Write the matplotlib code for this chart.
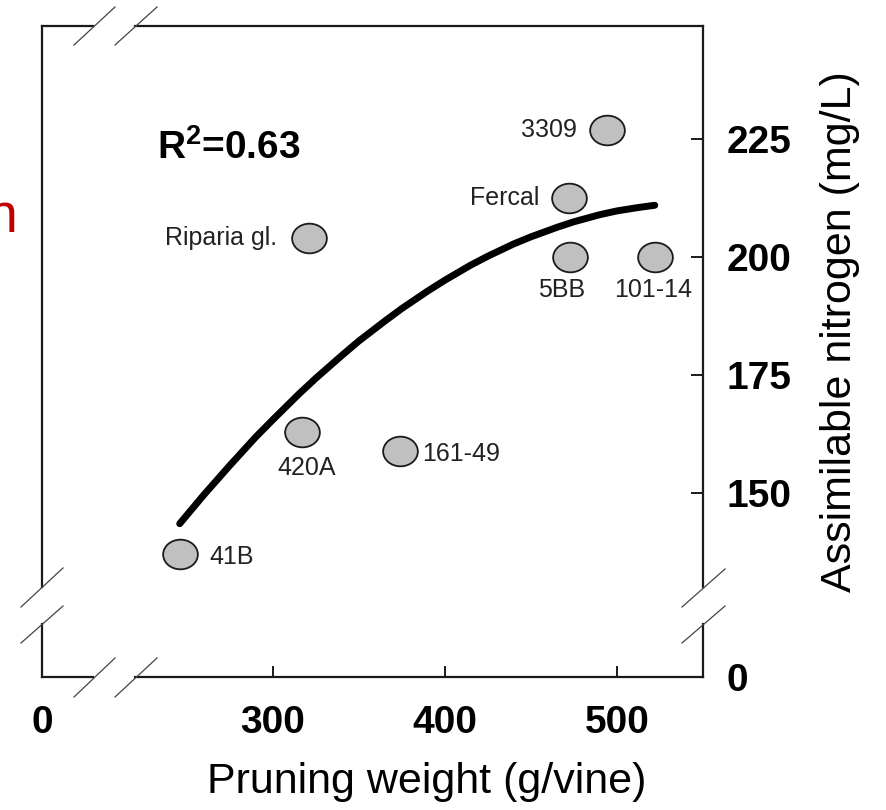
import matplotlib
matplotlib.use("Agg")
import matplotlib.pyplot as plt
from matplotlib.path import Path
from matplotlib.transforms import Affine2D
from matplotlib.lines import Line2D

plt.rcParams['font.family'] = ['Liberation Sans', 'DejaVu Sans']
plt.rcParams['mathtext.fontset'] = 'custom'
plt.rcParams['mathtext.rm'] = 'Liberation Sans'
plt.rcParams['mathtext.bf'] = 'Liberation Sans:bold'

# rootstocks: pruning weight (g/vine) vs assimilable nitrogen (mg/L)
names = ['3309', 'Fercal', '5BB', '101-14', 'Riparia gl.', '420A', '161-49', '41B']
pruning = [494, 472, 473, 522, 321, 317, 374, 246]
nitrogen = [227, 212.5, 200, 200, 204, 163, 159, 137]
# label offsets in pixels and alignment
lab_dx = [-30, -29, -9, -2, -32, 5, 22, 30]
lab_dy = [0, 0, -33, -33, 0, -36, -3, -3]
lab_ha = ['right', 'right', 'center', 'center', 'right', 'center', 'left', 'left']

# fitted curve
fit_x = [246, 260, 275, 290, 300, 315, 325, 340, 350, 365, 375, 390, 400, 415,
         425, 440, 450, 465, 475, 490, 500, 512, 522]
fit_y = [143.5, 149.6, 155.8, 161.8, 165.5, 170.9, 174.3, 179.1, 182.2, 186.4,
         189.1, 192.8, 195.1, 198.3, 200.2, 202.8, 204.3, 206.3, 207.5, 209.0,
         209.8, 210.5, 211]

xticks = [300, 400, 500]
yticks = [150, 175, 200, 225]
xlim = (166, 550)
ylim = (111, 249)

fig = plt.figure(figsize=(8.86, 8.10), dpi=100)
ax = fig.add_axes([42/886, 1-677/810, 661/886, 651/810])
ax.set_xlim(*xlim)
ax.set_ylim(*ylim)

ell = Path.unit_circle().transformed(Affine2D().scale(1.17, 1.0))

ax.plot(fit_x, fit_y, color='black', lw=5, solid_capstyle='round',
        solid_joinstyle='round', zorder=2)
ax.plot(pruning, nitrogen, ls='none', marker=ell, ms=25, mfc='#c0c0c0',
        mec='#1a1a1a', mew=1.3, zorder=3)

for n, x, y, dx, dy, ha in zip(names, pruning, nitrogen, lab_dx, lab_dy, lab_ha):
    ax.annotate(n, (x, y), xytext=(dx, dy), textcoords='offset pixels',
                ha=ha, va='center', fontsize=18, color='#222222')

ax.text((157-42)/661, (677-159)/651, r'R$^{\mathbf{2}}$=0.63', transform=ax.transAxes,
        fontsize=28, fontweight='bold', ha='left', va='baseline')

# spines with breaks drawn by hand
for s in ax.spines.values():
    s.set_visible(False)

def px(x, y):
    return (x-42)/661, (677-y)/651

segs = [
    [(42, 26), (93, 26)], [(135, 26), (703, 26)],
    [(42, 677), (93, 677)], [(135, 677), (703, 677)],
    [(42, 26), (42, 587)], [(42, 624), (42, 677)],
    [(703, 26), (703, 587)], [(703, 624), (703, 677)],
]
for a, b in segs:
    p1, p2 = px(*a), px(*b)
    ax.add_line(Line2D([p1[0], p2[0]], [p1[1], p2[1]], transform=ax.transAxes,
                       color='#1a1a1a', lw=1.6, clip_on=False))

slashes = [
    [(74, 45), (115, 7)], [(115, 45), (157, 7)],
    [(74, 697), (115, 658)], [(115, 697), (157, 658)],
    [(21, 607), (63, 568)], [(21, 643), (63, 606)],
    [(682, 607), (725, 569)], [(682, 643), (725, 606)],
]
for a, b in slashes:
    p1, p2 = px(*a), px(*b)
    ax.add_line(Line2D([p1[0], p2[0]], [p1[1], p2[1]], transform=ax.transAxes,
                       color='#444444', lw=0.9, clip_on=False))

ax.set_xticks([xlim[0]] + xticks)
ax.set_xticklabels(['0'] + [str(t) for t in xticks])
ax.set_yticks([ylim[0]] + yticks)
ax.set_yticklabels(['0'] + [str(t) for t in yticks])
ax.yaxis.tick_right()
ax.tick_params(axis='x', direction='in', length=8, width=1.4, pad=20,
               labelsize=28, color='#1a1a1a')
ax.tick_params(axis='y', direction='in', length=9, width=1.4, pad=17,
               labelsize=28, color='#1a1a1a')
for lab in ax.get_xticklabels() + ax.get_yticklabels():
    lab.set_fontweight('bold')
ax.xaxis.get_major_ticks()[0].tick1line.set_visible(False)
ax.yaxis.get_major_ticks()[0].tick2line.set_visible(False)

fig.text(427/886, 1-782/810, 'Pruning weight (g/vine)', ha='center', va='center',
         fontsize=31)
fig.text(840/886, 1-332/810, 'Assimilable nitrogen (mg/L)', ha='center',
         va='center', rotation=90, fontsize=31)

# cut-off red text on the left edge (cropped in the source too)
fig.text(-14/886, 1-232/810, 'n', color='#c00000', fontsize=40, ha='left',
         va='baseline')

fig.savefig('out.png', dpi=100)
